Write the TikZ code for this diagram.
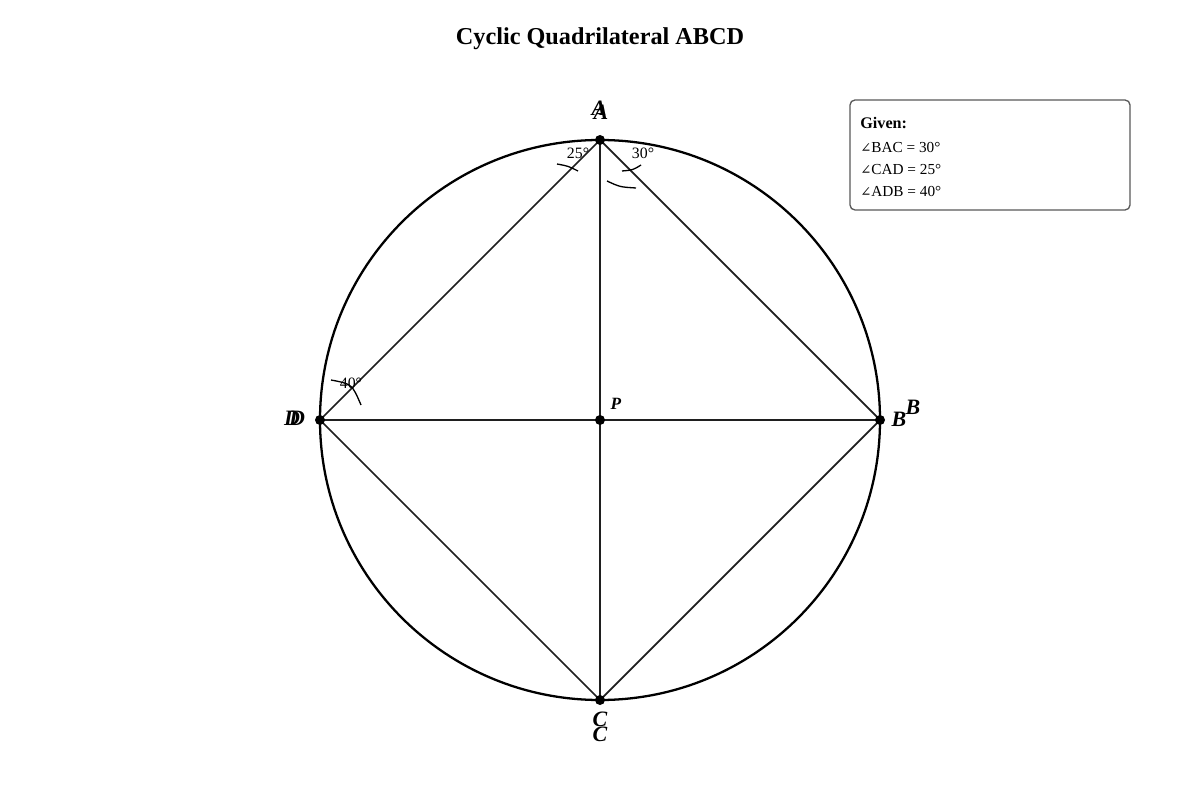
\documentclass[tikz,border=0pt]{standalone}
\usepackage{fontspec}
\setmainfont{Liberation Serif}
\newfontfamily\symfont{DejaVu Serif}
\begin{document}
\begin{tikzpicture}[x=0.02cm,y=-0.02cm,
  chord/.style={draw=black!88,line width=1.0pt},
  ptdot/.style={circle,fill=black,inner sep=0pt,minimum size=0.2cm},
  vlabel/.style={font=\fontsize{12.5}{14}\selectfont\bfseries\itshape,inner sep=0pt},
  anglabel/.style={font=\fontsize{9}{10}\selectfont,inner sep=0pt},
  angarc/.style={draw=black,line width=0.75pt},
  given/.style={font=\fontsize{8.7}{10}\selectfont,inner sep=0pt,anchor=west}]
\useasboundingbox (0,0) rectangle (1200,800);
\fill[white] (0,0) rectangle (1200,800);
% title
\node[font=\fontsize{13.8}{16}\selectfont\bfseries] (title) at (600,39) {Cyclic Quadrilateral ABCD};
% points
\coordinate (A) at (600,140);
\coordinate (B) at (880,420);
\coordinate (C) at (600,700);
\coordinate (D) at (320,420);
\coordinate (P) at (600,420);
\draw[line width=1.3pt] (P) circle[radius=280];
\draw[chord] (A) -- (B) -- (C) -- (D) -- cycle;
\draw[chord] (A) -- (C);
\draw[chord] (D) -- (B);
% angle marks
\draw[angarc] (557,164) .. controls (568,166) .. (578,171);
\draw[angarc] (622,171) .. controls (633,170) .. (641,165);
\draw[angarc] (607,181) .. controls (620,187) .. (636,188);
\draw[angarc] (331,380) .. controls (352,384) .. (361,405);
\node[anglabel] (a25) at (578,153) {25°};
\node[anglabel] (a30) at (643,153) {30°};
\node[anglabel] (a40) at (351,383) {40°};
% dots
\node[ptdot] (dA) at (A) {};
\node[ptdot] (dB) at (B) {};
\node[ptdot] (dC) at (C) {};
\node[ptdot] (dD) at (D) {};
\node[ptdot] (dP) at (P) {};
% labels
\node[vlabel] (lA1) at (599,108) {A};
\node[vlabel] (lA2) at (601,112) {A};
\node[vlabel] (lB1) at (899,419) {B};
\node[vlabel] (lB2) at (913,407) {B};
\node[vlabel] (lC1) at (600,719) {C};
\node[vlabel] (lC2) at (600,734) {C};
\node[vlabel] (lD1) at (292,418) {D};
\node[vlabel] (lD2) at (297,418) {D};
\node[vlabel,font=\fontsize{9.8}{11}\selectfont\bfseries\itshape] (lP) at (616,404) {P};
% given box
\draw[draw=black!65,line width=0.75pt,rounded corners=0.1cm,fill=white] (850,100) rectangle (1130,210);
\node[given,font=\fontsize{9.2}{11}\selectfont\bfseries] (g0) at (860,123) {Given:};
\node[given] (g1) at (860,147) {{\symfont\fontsize{7.5}{9}\selectfont ∠}BAC = 30°};
\node[given] (g2) at (860,169) {{\symfont\fontsize{7.5}{9}\selectfont ∠}CAD = 25°};
\node[given] (g3) at (860,191) {{\symfont\fontsize{7.5}{9}\selectfont ∠}ADB = 40°};
\end{tikzpicture}
\end{document}
